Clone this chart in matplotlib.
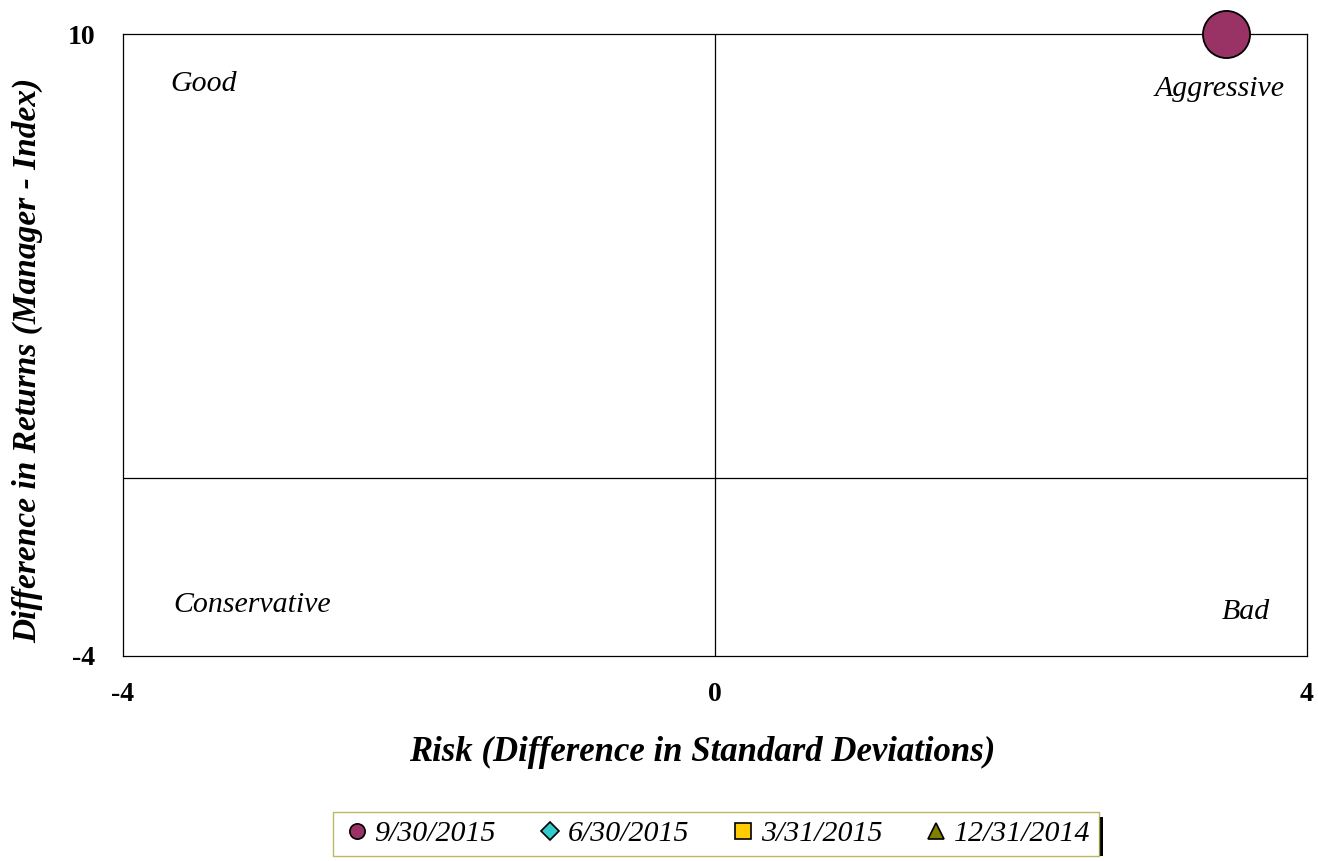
import matplotlib
matplotlib.use("Agg")
import matplotlib.pyplot as plt
from matplotlib.patches import Rectangle

# Data
series_labels = ["9/30/2015", "6/30/2015", "3/31/2015", "12/31/2014"]
series_x = [[3.45], [], [], []]
series_y = [[10.0], [], [], []]
series_colors = ["#993366", "#33CCCC", "#FFCC00", "#808000"]
series_markers = ["o", "D", "s", "^"]

x_ticks = [-4, 0, 4]
y_ticks = [-4, 10]
quadrant_labels = ["Good", "Aggressive", "Conservative", "Bad"]

plt.rcParams['font.family'] = ['Liberation Serif', 'DejaVu Serif']

fig = plt.figure(figsize=(13.18, 8.61), dpi=100)
ax = fig.add_axes([0.0933, 0.2381, 0.8984, 0.7224])
ax.set_xlim(-4, 4)
ax.set_ylim(-4, 10)

ax.axhline(0, color='black', lw=0.9, zorder=1)
ax.axvline(0, color='black', lw=0.9, zorder=1)

for xs, ys, c, m, lab in zip(series_x, series_y, series_colors, series_markers, series_labels):
    ax.scatter(xs, ys, s=1150 if m == 'o' else 100, c=c, marker=m, edgecolors='black',
               linewidths=1.3, label=lab, zorder=5, clip_on=False)

for sp in ax.spines.values():
    sp.set_linewidth(0.9)

ax.set_xticks(x_ticks)
ax.set_yticks(y_ticks)
ax.set_xticklabels([str(t) for t in x_ticks], fontsize=20, fontweight='bold')
ax.set_yticklabels([str(t) for t in y_ticks], fontsize=20, fontweight='bold')
ax.tick_params(axis='x', length=0, pad=19)
ax.tick_params(axis='y', length=0, pad=20)

tkw = dict(fontsize=21.5, style='italic')
ax.text(-3.68, 8.87, quadrant_labels[0], ha='left', va='center', **tkw)
ax.text(3.85, 8.76, quadrant_labels[1], ha='right', va='center', **tkw)
ax.text(-3.66, -2.85, quadrant_labels[2], ha='left', va='center', **tkw)
ax.text(3.75, -3.01, quadrant_labels[3], ha='right', va='center', **tkw)

fig.text(702 / 1318, 1 - 752 / 861, "Risk (Difference in Standard Deviations)", ha='center', va='center',
         fontsize=25, fontweight='bold', style='italic')
fig.text(28 / 1318, 1 - 360 / 861, "Difference in Returns (Manager - Index)", ha='center', va='center',
         rotation=90, fontsize=24, fontweight='bold', style='italic')

handles = [plt.Line2D([], [], marker=m, color='none', markerfacecolor=c, markeredgecolor='black',
                      markersize=11 if m != 'D' else 9, markeredgewidth=1.2, linestyle='none')
           for c, m in zip(series_colors, series_markers)]
leg = fig.legend(handles, series_labels, loc='center', bbox_to_anchor=(716 / 1318, 1 - 834 / 861),
                 ncol=4, frameon=True, fancybox=False, prop={'size': 21.5, 'style': 'italic'},
                 handletextpad=0.1, columnspacing=1.3, handlelength=1.0, borderpad=0.3)
leg.get_frame().set_edgecolor('#a6a640')
leg.get_frame().set_linewidth(1.0)

# shadow on the right of legend
fig.canvas.draw()
bb = leg.get_window_extent().transformed(fig.transFigure.inverted())
fig.patches.append(Rectangle((bb.x1, bb.y0), 4 / 1318, bb.height - 5 / 861,
                             transform=fig.transFigure, facecolor='black', edgecolor='none'))

fig.savefig("out.png", dpi=100)
